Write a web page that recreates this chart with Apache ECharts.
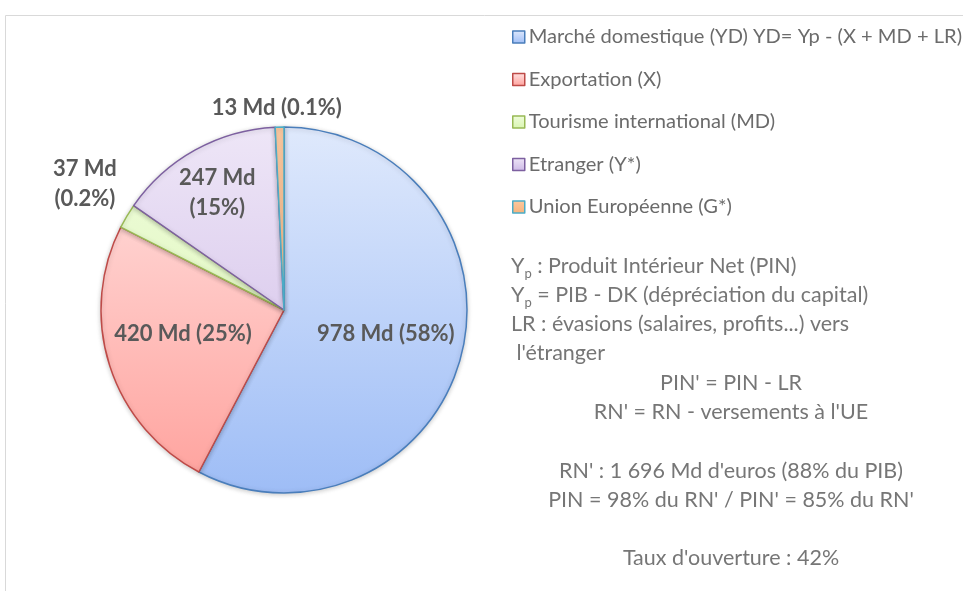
<!DOCTYPE html>
<html>
<head>
<meta charset="utf-8">
<script src="https://cdn.jsdelivr.net/npm/echarts@6/dist/echarts.min.js"></script>
<style>
html, body { margin: 0; padding: 0; background: #fff; }
#main { width: 963px; height: 591px; }
</style>
</head>
<body>
<div id="main"></div>
<script>
// données du graphique
var names = ['Marché domestique (YD) YD= Yp - (X + MD + LR)', 'Exportation (X)', 'Tourisme international (MD)', 'Etranger (Y*)', 'Union Européenne (G*)'];
var values = [978, 420, 37, 247, 13];
var labels = ['978 Md (58%)', '420 Md (25%)', '37 Md\n(0.2%)', '247 Md\n(15%)', '13 Md (0.1%)'];

var topColors = ['#dfe9fc', '#ffe3e2', '#effcdc', '#eee6f7', '#fbc9a0'];
var bottomColors = ['#9ebdf6', '#ffa19c', '#d9f5b0', '#cdb8e6', '#f7b27a'];
var borderColors = ['#4a7ebb', '#be4b48', '#98b954', '#7d60a0', '#4bacc6'];

var notesLeft = ['{a|Y}{s|p}{a| : Produit Intérieur Net (PIN)}', '{a|Y}{s|p}{a| = PIB - DK (dépréciation du capital)}', '{a|LR : évasions (salaires, profits...) vers}', '{a| l\'étranger}'];
var notesCenter = ['PIN\' = PIN - LR', 'RN\' = RN - versements à l\'UE', '', 'RN\' : 1 696 Md d\'euros (88% du PIB)', 'PIN = 98% du RN\' / PIN\' = 85% du RN\'', '', 'Taux d\'ouverture : 42%'];

var myChart = echarts.init(document.getElementById('main'));

// décalages des étiquettes par rapport à la position "inside"
var labelOffsets = [[10, 1], [-11, -5], [-118, -78], [-21, -34], [-5, -108]];

var data = [];
var legendData = [];
for (var i = 0; i < values.length; i++) {
    data.push({
        name: names[i],
        value: values[i],
        itemStyle: {
            color: {
                type: 'linear', x: 0, y: 127, x2: 0, y2: 493, global: true,
                colorStops: [{offset: 0, color: topColors[i]}, {offset: 1, color: bottomColors[i]}]
            },
            borderColor: borderColors[i]
        },
        label: {
            formatter: labels[i],
            offset: labelOffsets[i]
        }
    });
    legendData.push({
        name: names[i],
        itemStyle: {
            color: {
                type: 'linear', x: 0, y: 0, x2: 0, y2: 1,
                colorStops: [{offset: 0, color: topColors[i]}, {offset: 1, color: bottomColors[i]}]
            },
            borderColor: borderColors[i],
            borderWidth: 1.5
        }
    });
}

var graphics = [{
    type: 'rect',
    shape: {x: 5.5, y: 15.5, width: 1000, height: 700},
    style: {fill: 'none', stroke: '#d9d9d9', lineWidth: 1},
    silent: true
}];

var fontFam = 'Lato';
for (var j = 0; j < notesLeft.length; j++) {
    graphics.push({
        type: 'text',
        left: 511,
        top: 255 + j * 29,
        style: {
            text: notesLeft[j],
            rich: {
                a: {fontFamily: fontFam, fontSize: 21.5, fill: '#767676', lineHeight: 28},
                s: {fontFamily: fontFam, fontSize: 13, fill: '#767676', verticalAlign: 'bottom'}
            }
        }
    });
}
for (var k = 0; k < notesCenter.length; k++) {
    if (!notesCenter[k]) continue;
    graphics.push({
        type: 'text',
        x: 731,
        y: 383 + k * 29.2,
        style: {
            text: notesCenter[k],
            fontFamily: fontFam,
            fontSize: 21.5,
            fill: '#767676',
            align: 'center',
            verticalAlign: 'middle'
        }
    });
}

var option = {
    animation: false,
    legend: {
        orient: 'vertical',
        left: 507,
        top: 21,
        itemWidth: 12,
        itemHeight: 12,
        itemGap: 20.5,
        icon: 'rect',
        textStyle: {fontFamily: fontFam, fontSize: 20.1, color: '#6b6b6b', lineHeight: 22, padding: [0, 0, 0, -1]},
        data: legendData
    },
    graphic: graphics,
    series: [{
        type: 'pie',
        center: [284, 310],
        radius: 183,
        startAngle: 90,
        clockwise: true,
        avoidLabelOverlap: false,
        itemStyle: {borderWidth: 1.5, shadowBlur: 5, shadowColor: 'rgba(0,0,0,0.2)', shadowOffsetY: 1},
        label: {
            show: true,
            position: 'inside',
            fontFamily: fontFam,
            fontSize: 22,
            fontWeight: 'bold',
            color: '#595959',
            lineHeight: 30,
            align: 'center'
        },
        labelLine: {show: false},
        emphasis: {disabled: true},
        data: data
    }]
};

myChart.setOption(option);
</script>
</body>
</html>
